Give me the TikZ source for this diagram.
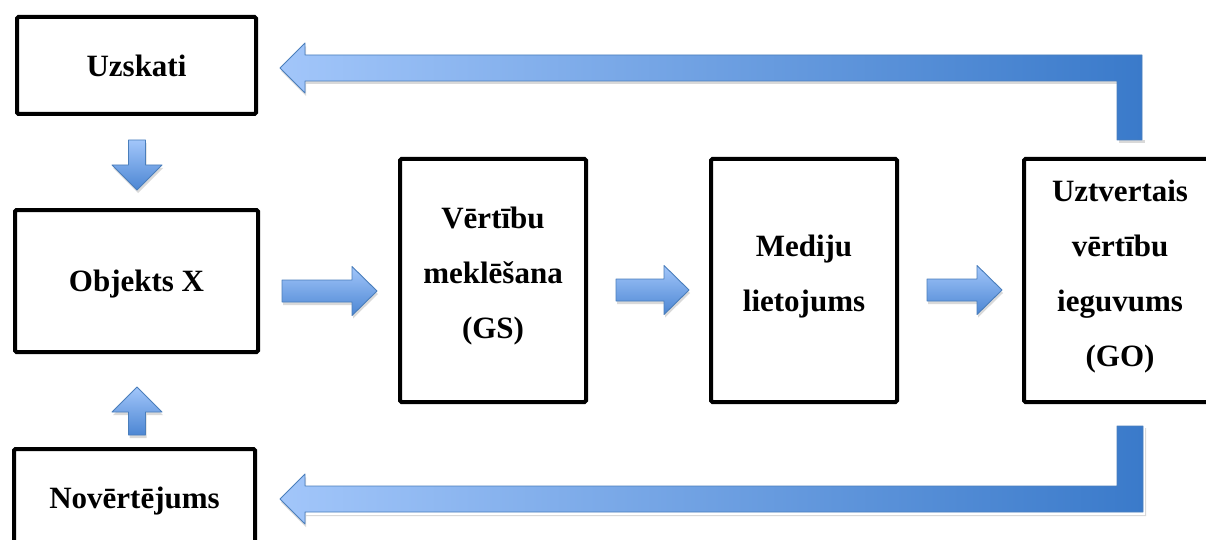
\documentclass[tikz,border=0pt]{standalone}
\usepackage{fontspec}
\setmainfont{Liberation Serif}
\definecolor{arrline}{HTML}{4A7EBB}
\definecolor{arrlight}{HTML}{A2C6FA}
\definecolor{arrmid}{HTML}{4C86D3}
\definecolor{arrdark}{HTML}{3A7ACA}
\tikzset{
  boxnode/.style={draw=black, line width=4pt, rounded corners=1.5pt, align=center,
    font=\fontsize{31}{55}\selectfont\bfseries, inner sep=0pt},
  oneline/.style={text depth=0pt},
  multiline/.style={text depth=15pt},
  smallarrow/.style={draw=arrline, line width=0.9pt, line join=round, top color=arrlight, bottom color=arrmid},
  bigarrow/.style={draw=arrline, line width=0.9pt, line join=round, left color=arrlight, right color=arrdark},
  shadowfill/.style={fill=black, opacity=0.15}
}
\newcommand\rightblock[3]{% x0 x1 yc
  \fill[shadowfill] ({#1+1},{#3-11+3}) -- ({#2-25+1},{#3-11+3}) -- ({#2-25+1},{#3-24.5+3}) -- ({#2+1},{#3+3}) -- ({#2-25+1},{#3+24.5+3}) -- ({#2-25+1},{#3+11+3}) -- ({#1+1},{#3+11+3}) -- cycle;
  \draw[smallarrow] (#1,{#3-11}) -- ({#2-25},{#3-11}) -- ({#2-25},{#3-24.5}) -- (#2,#3) -- ({#2-25},{#3+24.5}) -- ({#2-25},{#3+11}) -- (#1,{#3+11}) -- cycle;}
\newcommand\vertblock[4]{% xc ystart ytip dir(+1 down,-1 up)
  \fill[shadowfill] ({#1-8.5+1},{#2+3}) -- ({#1+8.5+1},{#2+3}) -- ({#1+8.5+1},{#3-25*#4+3}) -- ({#1+25+1},{#3-25*#4+3}) -- ({#1+1},{#3+3}) -- ({#1-25+1},{#3-25*#4+3}) -- ({#1-8.5+1},{#3-25*#4+3}) -- cycle;
  \draw[smallarrow] ({#1-8.5},#2) -- ({#1+8.5},#2) -- ({#1+8.5},{#3-25*#4}) -- ({#1+25},{#3-25*#4}) -- (#1,#3) -- ({#1-25},{#3-25*#4}) -- ({#1-8.5},{#3-25*#4}) -- cycle;}
\begin{document}
\begin{tikzpicture}[x=1pt,y=-1pt]
\useasboundingbox (0,0) rectangle (1206,540);
\clip (0,0) rectangle (1206,540);
\fill[white] (0,0) rectangle (1206,540);

% boxes
\node[boxnode, oneline, minimum width=239pt, minimum height=97pt] (uzskati) at (136.5,65.5) {Uzskati};
\node[boxnode, oneline, minimum width=243pt, minimum height=142pt] (objekts) at (136.5,281) {Objekts X};
\node[boxnode, oneline, minimum width=241pt, minimum height=97pt] (novert) at (134.5,497.5) {Novērtējums};
\node[boxnode, multiline, minimum width=186pt, minimum height=243pt] (meklesana) at (493,280.5) {Vērtību\\meklēšana\\(GS)};
\node[boxnode, multiline, minimum width=186pt, minimum height=243pt] (mediju) at (804,280.5) {Mediju\\lietojums};
\node[boxnode, multiline, minimum width=192pt, minimum height=243pt] (uztv) at (1120,280.5) {Uztvertais\\vērtību\\ieguvums\\(GO)};

% small block arrows
\vertblock{137}{140}{190}{1}
\vertblock{137}{435}{387}{-1}
\rightblock{282}{377}{291}
\rightblock{616}{689}{290}
\rightblock{927}{1002}{290}

% big bent arrows
\fill[shadowfill] (281,71) -- (306,46) -- (306,58) -- (1117,58) -- (1117,84) -- (306,84) -- (306,96) -- cycle;
\fill[shadowfill] (1119,140) rectangle (1145,143);
\draw[bigarrow] (280,68) -- (305,43) -- (305,55) -- (1142,55) -- (1142,140) -- (1117,140) -- (1117,81) -- (305,81) -- (305,93) -- cycle;

\fill[shadowfill] (281,502) -- (306,477) -- (306,515) -- (1145,515) -- (1145,428) -- (1146,428) -- (1146,516) -- (306,516) -- (306,527) -- cycle;
\draw[bigarrow] (280,499) -- (305,474) -- (305,486) -- (1117,486) -- (1117,426) -- (1143,426) -- (1143,512) -- (305,512) -- (305,524) -- cycle;
\end{tikzpicture}
\end{document}
